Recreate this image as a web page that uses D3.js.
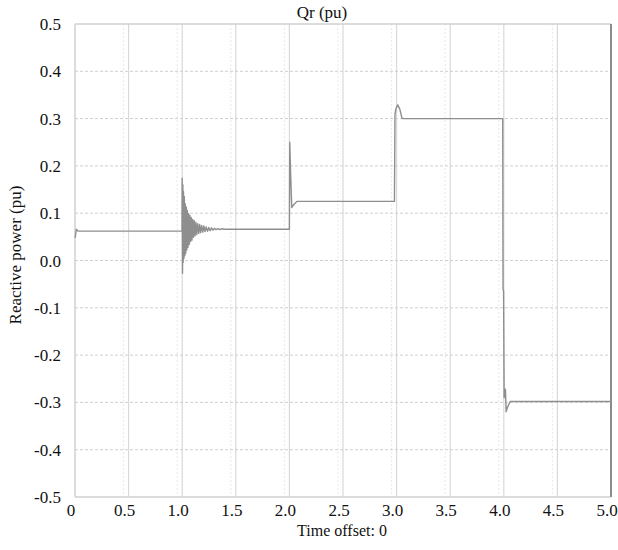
<!DOCTYPE html>
<html>
<head>
<meta charset="utf-8">
<script src="https://cdn.jsdelivr.net/npm/d3@7/dist/d3.min.js"></script>
<style>
  html, body { margin: 0; padding: 0; background: #fff; }
  svg { display: block; }
  svg text { font-family: "Liberation Serif", "Times New Roman", serif; fill: #111; }
</style>
</head>
<body>
<svg id="chart" width="618" height="550"></svg>
<script>
// Axis ticks and labels
const xTicks = [0, 0.5, 1.0, 1.5, 2.0, 2.5, 3.0, 3.5, 4.0, 4.5, 5.0];
const xTickLabels = ["0", "0.5", "1.0", "1.5", "2.0", "2.5", "3.0", "3.5", "4.0", "4.5", "5.0"];
const yTicks = [0.5, 0.4, 0.3, 0.2, 0.1, 0.0, -0.1, -0.2, -0.3, -0.4, -0.5];
const yTickLabels = ["0.5", "0.4", "0.3", "0.2", "0.1", "0.0", "-0.1", "-0.2", "-0.3", "-0.4", "-0.5"];

// Rotor reactive power: start-up and first operating point (s, pu)
const startTime = [0, 0.004, 0.012, 0.03, 0.998];
const startQ    = [0.048, 0.052, 0.066, 0.062, 0.062];

// Damped oscillation after the step at t = 1 s (successive extrema)
const oscTime = [1.000, 1.003, 1.006, 1.009, 1.012, 1.016, 1.020, 1.024, 1.028, 1.033,
                 1.038, 1.043, 1.048, 1.054, 1.060, 1.066, 1.072, 1.078, 1.084, 1.091,
                 1.098, 1.105, 1.112, 1.120, 1.128, 1.136, 1.145, 1.154, 1.163, 1.172,
                 1.182, 1.192, 1.202, 1.213, 1.224, 1.236, 1.248, 1.260, 1.273, 1.287,
                 1.301, 1.316, 1.332, 1.350, 1.370, 1.395];
const oscQ    = [0.174, -0.027, 0.160, -0.004, 0.146, 0.004, 0.135, 0.010, 0.120, 0.015,
                 0.113, 0.022, 0.106, 0.028, 0.099, 0.034, 0.095, 0.040, 0.091, 0.043,
                 0.087, 0.049, 0.084, 0.052, 0.081, 0.055, 0.078, 0.057, 0.076, 0.059,
                 0.074, 0.060, 0.073, 0.061, 0.071, 0.062, 0.070, 0.063, 0.069, 0.064,
                 0.068, 0.065, 0.0675, 0.0655, 0.067, 0.066];

// Later steps at t = 2, 3 and 4 s
const stepTime = [1.42, 2.0, 2.003, 2.012, 2.022, 2.04, 2.07, 2.98, 2.985, 2.995,
                  3.01, 3.03, 3.05, 3.06, 3.99, 3.993, 3.998, 4.003, 4.015, 4.022,
                  4.035, 4.06, 5.0];
const stepQ    = [0.066, 0.066, 0.250, 0.180, 0.112, 0.118, 0.125, 0.125, 0.310, 0.322,
                  0.329, 0.320, 0.301, 0.300, 0.300, -0.060, -0.065, -0.290, -0.272, -0.320,
                  -0.310, -0.298, -0.298];

const series = []
  .concat(startTime.map((t, i) => [t, startQ[i]]))
  .concat(oscTime.map((t, i) => [t, oscQ[i]]))
  .concat(stepTime.map((t, i) => [t, stepQ[i]]));

const svg = d3.select("#chart");
const plotLeft = 75, plotRight = 611, plotTop = 24, plotBottom = 497;

const x = d3.scaleLinear().domain([0, 5]).range([plotLeft, plotRight]);
const y = d3.scaleLinear().domain([-0.5, 0.5]).range([plotBottom, plotTop]);

// Grid
const grid = svg.append("g");
grid.selectAll("line.vd")
  .data(xTicks.slice(1, -1))
  .join("line")
  .attr("class", "vd")
  .attr("x1", d => x(d) - 5).attr("x2", d => x(d) - 5)
  .attr("y1", plotTop).attr("y2", plotBottom)
  .attr("stroke", "#e8e8e8").attr("stroke-width", 1)
  .attr("stroke-dasharray", "2,2");
grid.selectAll("line.v")
  .data(xTicks.slice(1, -1))
  .join("line")
  .attr("class", "v")
  .attr("x1", d => x(d)).attr("x2", d => x(d))
  .attr("y1", plotTop).attr("y2", plotBottom)
  .attr("stroke", "#d9d9d9").attr("stroke-width", 1.2);
grid.selectAll("line.h")
  .data(yTicks.slice(1, -1))
  .join("line")
  .attr("class", "h")
  .attr("x1", plotLeft).attr("x2", plotRight)
  .attr("y1", d => y(d)).attr("y2", d => y(d))
  .attr("stroke", "#cfcfcf").attr("stroke-width", 1)
  .attr("stroke-dasharray", "3,2");

// Frame
svg.append("line").attr("x1", plotLeft).attr("x2", plotRight).attr("y1", plotTop).attr("y2", plotTop)
  .attr("stroke", "#d0d0d0").attr("stroke-width", 1.5);
svg.append("line").attr("x1", plotLeft).attr("x2", plotRight).attr("y1", plotBottom).attr("y2", plotBottom)
  .attr("stroke", "#d0d0d0").attr("stroke-width", 1.5);
svg.append("line").attr("x1", plotLeft).attr("x2", plotLeft).attr("y1", plotTop).attr("y2", plotBottom)
  .attr("stroke", "#d0d0d0").attr("stroke-width", 1.5);
svg.append("line").attr("x1", plotRight).attr("x2", plotRight).attr("y1", plotTop).attr("y2", plotBottom)
  .attr("stroke", "#8c8c8c").attr("stroke-width", 2);

// Signal
const line = d3.line().x(d => x(d[0])).y(d => y(d[1]));
svg.append("path")
  .datum(series)
  .attr("d", line)
  .attr("fill", "none")
  .attr("stroke", "#8e8e8e")
  .attr("stroke-width", 1.4)
  .attr("stroke-linejoin", "round");

// Tick labels
svg.append("g").selectAll("text")
  .data(xTicks)
  .join("text")
  .attr("x", d => x(d) - 4)
  .attr("y", plotBottom + 19)
  .attr("text-anchor", "middle")
  .attr("font-size", 17)
  .text((d, i) => xTickLabels[i]);

svg.append("g").selectAll("text")
  .data(yTicks)
  .join("text")
  .attr("x", plotLeft - 14)
  .attr("y", d => y(d) + 6)
  .attr("text-anchor", "end")
  .attr("font-size", 17)
  .text((d, i) => yTickLabels[i]);

// Titles
svg.append("text")
  .attr("x", 322).attr("y", 18)
  .attr("text-anchor", "middle")
  .attr("font-size", 17)
  .text("Qr (pu)");

svg.append("text")
  .attr("x", 342).attr("y", 536)
  .attr("text-anchor", "middle")
  .attr("font-size", 16)
  .text("Time offset: 0");

svg.append("text")
  .attr("transform", "translate(21,255) rotate(-90)")
  .attr("text-anchor", "middle")
  .attr("font-size", 17)
  .text("Reactive power (pu)");
</script>
</body>
</html>
